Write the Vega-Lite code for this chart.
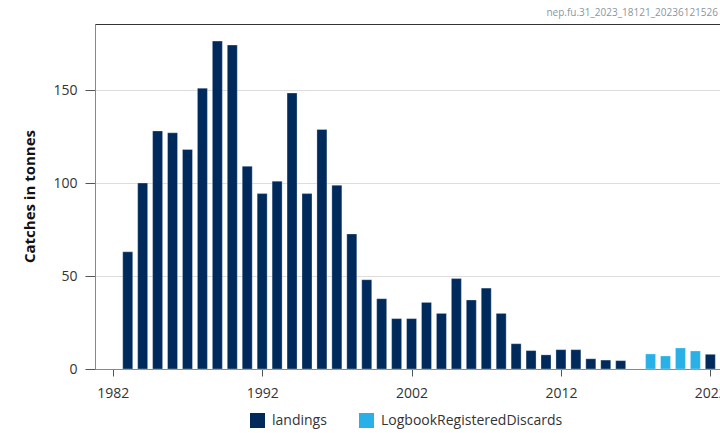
{
  "$schema": "https://vega.github.io/schema/vega-lite/v6.json",
  "autosize": {"type": "none"},
  "width": 626,
  "height": 345,
  "padding": {"left": 95, "top": 24, "right": 0, "bottom": 64},
  "background": "white",
  "config": {
    "font": "Open Sans",
    "view": {"stroke": "#333333", "strokeWidth": 1}
  },
  "title": {
    "text": "nep.fu.31_2023_18121_20236121526",
    "anchor": "end",
    "frame": "group",
    "fontSize": 10,
    "fontWeight": "normal",
    "color": "#8a96a3",
    "dx": -3,
    "offset": 6
  },
  "data": {
    "values": [
      {"year": 1983, "value": 63, "type": "landings"},
      {"year": 1984, "value": 100, "type": "landings"},
      {"year": 1985, "value": 128, "type": "landings"},
      {"year": 1986, "value": 127, "type": "landings"},
      {"year": 1987, "value": 118, "type": "landings"},
      {"year": 1988, "value": 151, "type": "landings"},
      {"year": 1989, "value": 176.3, "type": "landings"},
      {"year": 1990, "value": 174.2, "type": "landings"},
      {"year": 1991, "value": 109, "type": "landings"},
      {"year": 1992, "value": 94.3, "type": "landings"},
      {"year": 1993, "value": 101, "type": "landings"},
      {"year": 1994, "value": 148.4, "type": "landings"},
      {"year": 1995, "value": 94.3, "type": "landings"},
      {"year": 1996, "value": 128.8, "type": "landings"},
      {"year": 1997, "value": 98.8, "type": "landings"},
      {"year": 1998, "value": 72.6, "type": "landings"},
      {"year": 1999, "value": 48, "type": "landings"},
      {"year": 2000, "value": 37.8, "type": "landings"},
      {"year": 2001, "value": 27.1, "type": "landings"},
      {"year": 2002, "value": 27.1, "type": "landings"},
      {"year": 2003, "value": 35.8, "type": "landings"},
      {"year": 2004, "value": 29.9, "type": "landings"},
      {"year": 2005, "value": 48.6, "type": "landings"},
      {"year": 2006, "value": 37.1, "type": "landings"},
      {"year": 2007, "value": 43.5, "type": "landings"},
      {"year": 2008, "value": 29.9, "type": "landings"},
      {"year": 2009, "value": 13.6, "type": "landings"},
      {"year": 2010, "value": 9.9, "type": "landings"},
      {"year": 2011, "value": 7.6, "type": "landings"},
      {"year": 2012, "value": 10.4, "type": "landings"},
      {"year": 2013, "value": 10.4, "type": "landings"},
      {"year": 2014, "value": 5.5, "type": "landings"},
      {"year": 2015, "value": 4.8, "type": "landings"},
      {"year": 2016, "value": 4.5, "type": "landings"},
      {"year": 2018, "value": 8.1, "type": "LogbookRegisteredDiscards"},
      {"year": 2019, "value": 7.0, "type": "LogbookRegisteredDiscards"},
      {"year": 2020, "value": 11.3, "type": "LogbookRegisteredDiscards"},
      {"year": 2021, "value": 9.7, "type": "LogbookRegisteredDiscards"},
      {"year": 2022, "value": 7.9, "type": "landings"}
    ]
  },
  "mark": {"type": "bar", "size": 10, "stroke": "white", "strokeWidth": 0.5, "strokeOpacity": 0.6},
  "encoding": {
    "x": {
      "field": "year",
      "type": "quantitative",
      "scale": {"domain": [1981.144, 2022.38], "nice": false, "zero": false},
      "axis": {
        "title": null,
        "values": [1982, 1992, 2002, 2012, 2022],
        "format": "d",
        "grid": false,
        "domainColor": "#888888",
        "tickColor": "#555555",
        "tickSize": 7,
        "labelFontSize": 14,
        "labelColor": "#333333",
        "labelPadding": 10,
        "labelFlush": false,
        "labelOverlap": false
      }
    },
    "y": {
      "field": "value",
      "type": "quantitative",
      "stack": null,
      "scale": {"domain": [0, 185.5], "nice": false},
      "axis": {
        "title": "Catches in tonnes",
        "values": [0, 50, 100, 150],
        "grid": true,
        "gridColor": "#dddddd",
        "domainColor": "#888888",
        "tickColor": "#555555",
        "tickSize": 10,
        "labelFontSize": 14,
        "labelColor": "#333333",
        "labelPadding": 8,
        "titleFontSize": 15,
        "titleFontWeight": "bold",
        "titleColor": "#111111",
        "titleAngle": -90,
        "titleAlign": "center",
        "titleBaseline": "middle",
        "titleX": -66,
        "titleY": 172
      }
    },
    "color": {
      "field": "type",
      "type": "nominal",
      "scale": {
        "domain": ["landings", "LogbookRegisteredDiscards"],
        "range": ["#002a5c", "#29b0e6"]
      },
      "legend": {
        "title": null,
        "orient": "none",
        "direction": "horizontal",
        "legendX": 155,
        "legendY": 389,
        "symbolType": "square",
        "symbolSize": 225,
        "symbolStrokeWidth": 0,
        "symbolOpacity": 1,
        "labelFontSize": 14,
        "labelColor": "#333333",
        "labelOffset": 7,
        "labelLimit": 0,
        "columnPadding": 32
      }
    }
  }
}
